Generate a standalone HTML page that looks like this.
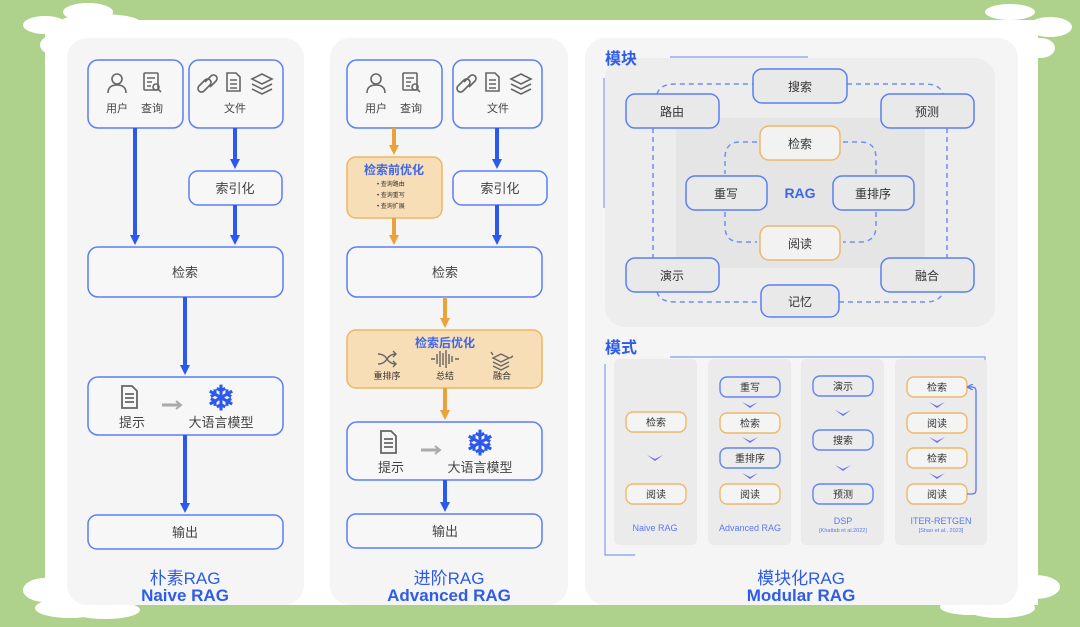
<!DOCTYPE html>
<html><head><meta charset="utf-8"><style>
html,body{margin:0;padding:0;background:#aed28b;}
svg{display:block}
text{font-family:"Liberation Sans","Noto Sans CJK SC",sans-serif;}
</style></head><body>
<svg width="1080" height="627" viewBox="0 0 1080 627" xmlns="http://www.w3.org/2000/svg">
<defs>
<marker id="ab" markerWidth="12" markerHeight="12" refX="3" refY="6" orient="auto" markerUnits="userSpaceOnUse"><path d="M0,1 L10,6 L0,11 Z" fill="#2b59f0"/></marker>
<marker id="ao" markerWidth="12" markerHeight="12" refX="3" refY="6" orient="auto" markerUnits="userSpaceOnUse"><path d="M0,1 L10,6 L0,11 Z" fill="#eba23a"/></marker>
<marker id="af" markerWidth="6" markerHeight="6" refX="5" refY="3" orient="auto" markerUnits="userSpaceOnUse"><path d="M0,0 L6,3 L0,6" fill="none" stroke="#5a78f2" stroke-width="1.3"/></marker>
</defs>
<rect width="1080" height="627" fill="#aed28b"/>
<!-- clouds -->
<g fill="#fff">
<ellipse cx="45" cy="25" rx="22" ry="9"/><ellipse cx="88" cy="12" rx="25" ry="9"/><ellipse cx="100" cy="22" rx="40" ry="8"/><ellipse cx="55" cy="45" rx="15" ry="10"/>
<ellipse cx="1010" cy="12" rx="25" ry="8"/><ellipse cx="1050" cy="27" rx="22" ry="10"/><ellipse cx="1040" cy="48" rx="15" ry="10"/>
<ellipse cx="45" cy="590" rx="22" ry="12"/><ellipse cx="70" cy="608" rx="35" ry="10"/><ellipse cx="105" cy="610" rx="35" ry="9"/>
<ellipse cx="1035" cy="587" rx="25" ry="12"/><ellipse cx="1000" cy="608" rx="35" ry="10"/><ellipse cx="970" cy="607" rx="30" ry="8"/>
<rect x="45" y="20" width="993" height="585"/>
</g>
<!-- panels -->
<g fill="#f5f5f5">
<rect x="67" y="38" width="237" height="567" rx="20"/>
<rect x="330" y="38" width="238" height="567" rx="20"/>
<rect x="585" y="38" width="433" height="567" rx="20"/>
</g>

<g fill="#f7f7f7" stroke="#5b7ff5" stroke-width="1.5">
<rect x="88" y="60" width="95" height="68" rx="10"/>
<rect x="189" y="60" width="94" height="68" rx="10"/>
<rect x="189" y="171" width="93" height="34" rx="9"/>
<rect x="88" y="247" width="195" height="50" rx="10"/>
<rect x="88" y="377" width="195" height="58" rx="10"/>
<rect x="88" y="515" width="195" height="34" rx="9"/>
<rect x="347" y="60" width="95" height="68" rx="10"/>
<rect x="453" y="60" width="89" height="68" rx="10"/>
<rect x="453" y="171" width="94" height="34" rx="9"/>
<rect x="347" y="247" width="195" height="50" rx="10"/>
<rect x="347" y="422" width="195" height="58" rx="10"/>
<rect x="347" y="514" width="195" height="34" rx="9"/>
</g>
<g fill="#f8deb6" stroke="#eeb662" stroke-width="1.5">
<rect x="347" y="157" width="95" height="61" rx="9"/>
<rect x="347" y="330" width="195" height="58" rx="9"/>
</g>

<g stroke="#2b59f0" stroke-width="4" fill="none">
<line x1="135" y1="128" x2="135" y2="238" marker-end="url(#ab)"/>
<line x1="235" y1="128" x2="235" y2="162" marker-end="url(#ab)"/>
<line x1="235" y1="205" x2="235" y2="238" marker-end="url(#ab)"/>
<line x1="185" y1="297" x2="185" y2="368" marker-end="url(#ab)"/>
<line x1="185" y1="435" x2="185" y2="506" marker-end="url(#ab)"/>
<line x1="497" y1="128" x2="497" y2="162" marker-end="url(#ab)"/>
<line x1="497" y1="205" x2="497" y2="238" marker-end="url(#ab)"/>
<line x1="445" y1="480" x2="445" y2="505" marker-end="url(#ab)"/>
</g>
<g stroke="#eba23a" stroke-width="4" fill="none">
<line x1="394" y1="128" x2="394" y2="148" marker-end="url(#ao)"/>
<line x1="394" y1="218" x2="394" y2="238" marker-end="url(#ao)"/>
<line x1="445" y1="297" x2="445" y2="321" marker-end="url(#ao)"/>
<line x1="445" y1="388" x2="445" y2="413" marker-end="url(#ao)"/>
</g>

<g id="ic1" stroke="#666" stroke-width="1.6" fill="none">
<circle cx="117" cy="79" r="5"/><path d="M108,93 Q108,85 117,85 Q126,85 126,93"/>
<rect x="144" y="73" width="14" height="17" rx="1"/><path d="M147,78h8M147,82h5M147,86h4"/><circle cx="156" cy="87" r="3"/><path d="M158,89l3,3"/>
<path d="M199,86 l6,-6 a3.5,3.5 0 0 1 5,5 l-6,6 a3.5,3.5 0 0 1 -5,-5z M205,82 l6,-6 a3.5,3.5 0 0 1 5,5 l-6,6"/>
<path d="M227,73h9l4,4v14h-13z"/><path d="M230,80h7M230,84h7M230,88h7"/>
<path d="M252,79 l10,-5 l10,5 l-10,5z M252,84 l10,5 l10,-5 M252,89 l10,5 l10,-5"/>
</g>
<use href="#ic1" x="259" y="0"/>
<g stroke="#666" stroke-width="1.8" fill="none">
<path d="M122,386h10l5,5v17h-15z M125,394h9M125,398h9M125,402h9"/>
<path d="M381,431h10l5,5v17h-15z M384,439h9M384,443h9M384,447h9"/>
</g>
<g stroke="#aaa" stroke-width="3" fill="none">
<path d="M162,405h18"/><path d="M176,401l5,4l-5,4" stroke-width="2"/>
<path d="M421,450h18"/><path d="M435,446l5,4l-5,4" stroke-width="2"/>
</g>
<g font-size="34" font-weight="bold" fill="#2b59f0" text-anchor="middle">
<text x="221" y="410">❄</text><text x="480" y="455">❄</text>
</g>
<g stroke="#666" stroke-width="1.4" fill="none">
<path d="M378,354 q6,0 9,5 t9,5 M378,364 q6,0 9,-5 t9,-5 M393,351l3,3l-3,3 M393,361l3,3l-3,3"/>
<path d="M431,359h4 M455,359h4 M437,354v10 M440,351v16 M443,353v12 M446,350v18 M449,354v10 M452,356v6"/>
<path d="M493,358l8,-4l8,4l-8,4z M493,362l8,4l8,-4 M493,366l8,4l8,-4 M493,355l-2,-3 M510,358l3,-2"/>
</g>

<g font-size="11" fill="#444" text-anchor="middle">
<text x="117" y="112">用户</text><text x="152" y="112">查询</text><text x="235" y="112">文件</text>
<text x="376" y="112">用户</text><text x="411" y="112">查询</text><text x="498" y="112">文件</text>
</g>
<g font-size="13" fill="#444" text-anchor="middle">
<text x="235" y="193">索引化</text><text x="185" y="277">检索</text>
<text x="132" y="427">提示</text><text x="221" y="427">大语言模型</text>
<text x="185" y="537">输出</text>
<text x="500" y="193">索引化</text><text x="445" y="277">检索</text>
<text x="391" y="472">提示</text><text x="480" y="472">大语言模型</text>
<text x="445" y="536">输出</text>
</g>
<g font-size="12" font-weight="bold" fill="#3d66ea" text-anchor="middle">
<text x="394" y="174">检索前优化</text><text x="445" y="347">检索后优化</text>
</g>
<g font-size="6" fill="#333">
<text x="377" y="186">•  查询路由</text><text x="377" y="197">•  查询重写</text><text x="377" y="208">•  查询扩展</text>
</g>
<g font-size="9" fill="#333" text-anchor="middle">
<text x="387" y="379">重排序</text><text x="445" y="379">总结</text><text x="502" y="379">融合</text>
</g>
<g font-size="17" font-weight="bold" fill="#2e5ce8" text-anchor="middle">
<text x="185" y="584" font-weight="normal">朴素RAG</text><text x="185" y="601">Naive RAG</text>
<text x="449" y="584" font-weight="normal">进阶RAG</text><text x="449" y="601">Advanced RAG</text>
<text x="801" y="584" font-weight="normal">模块化RAG</text><text x="801" y="601">Modular RAG</text>
</g>

<rect x="605" y="58" width="390" height="269" rx="20" fill="#ededed"/>
<rect x="676" y="118" width="249" height="150" fill="#e5e5e5"/>
<g stroke="#7f9cf5" stroke-width="1.2" fill="none">
<line x1="670" y1="57" x2="808" y2="57"/><line x1="604" y1="78" x2="604" y2="208"/>
<path d="M670,357 H985 V375"/><path d="M605,364 V555 H635"/>
</g>
<g stroke="#6f8ff5" stroke-width="1.5" fill="none" stroke-dasharray="5,4">
<path d="M657,94 Q660,84 675,84 H753"/><path d="M847,84 H925 Q940,84 943,94"/>
<path d="M653,128 V258"/><path d="M947,128 V258"/>
<path d="M657,292 Q660,302 675,302 H761"/><path d="M839,302 H925 Q940,302 943,292"/>
<path d="M757,142 H740 Q725,142 725,158 V174"/><path d="M843,142 H860 Q876,142 876,158 V174"/>
<path d="M725,212 V226 Q725,242 740,242 H757"/><path d="M876,212 V226 Q876,242 860,242 H843"/>
</g>
<g fill="#e9e9e9" stroke="#5b7ff5" stroke-width="1.5">
<rect x="753" y="69" width="94" height="34" rx="9"/>
<rect x="626" y="94" width="93" height="34" rx="9"/>
<rect x="881" y="94" width="93" height="34" rx="9"/>
<rect x="686" y="176" width="81" height="34" rx="9"/>
<rect x="833" y="176" width="81" height="34" rx="9"/>
<rect x="626" y="258" width="93" height="34" rx="9"/>
<rect x="881" y="258" width="93" height="34" rx="9"/>
<rect x="761" y="285" width="78" height="32" rx="9"/>
</g>
<g fill="#f2f2f2" stroke="#efb868" stroke-width="1.5">
<rect x="760" y="126" width="80" height="34" rx="9"/>
<rect x="760" y="226" width="80" height="34" rx="9"/>
</g>
<g font-size="12" fill="#333" text-anchor="middle">
<text x="800" y="91">搜索</text><text x="672" y="116">路由</text><text x="927" y="116">预测</text>
<text x="800" y="148">检索</text><text x="726" y="198">重写</text><text x="873" y="198">重排序</text>
<text x="800" y="248">阅读</text><text x="672" y="280">演示</text><text x="927" y="280">融合</text>
<text x="800" y="306">记忆</text>
</g>
<text x="800" y="198" font-size="14" font-weight="bold" fill="#3d66ea" text-anchor="middle">RAG</text>
<text x="605" y="64" font-size="16" font-weight="bold" fill="#2e5ce8">模块</text>
<text x="605" y="353" font-size="16" font-weight="bold" fill="#2e5ce8">模式</text>

<g fill="#ebebeb">
<rect x="614" y="359" width="83" height="186" rx="5"/>
<rect x="708" y="359" width="83" height="186" rx="5"/>
<rect x="801" y="359" width="83" height="186" rx="5"/>
<rect x="895" y="359" width="92" height="186" rx="5"/>
</g>
<g fill="#f4f4f4" stroke="#efb868" stroke-width="1.4">
<rect x="626" y="412" width="60" height="20" rx="7"/><rect x="626" y="484" width="60" height="20" rx="7"/>
<rect x="720" y="413" width="60" height="20" rx="7"/><rect x="720" y="484" width="60" height="20" rx="7"/>
<rect x="907" y="377" width="60" height="20" rx="7"/><rect x="907" y="413" width="60" height="20" rx="7"/>
<rect x="907" y="448" width="60" height="20" rx="7"/><rect x="907" y="484" width="60" height="20" rx="7"/>
</g>
<g fill="#ececec" stroke="#6284f5" stroke-width="1.4">
<rect x="720" y="377" width="60" height="20" rx="7"/><rect x="720" y="448" width="60" height="20" rx="7"/>
<rect x="813" y="376" width="60" height="20" rx="7"/><rect x="813" y="430" width="60" height="20" rx="7"/><rect x="813" y="484" width="60" height="20" rx="7"/>
</g>
<path d="M967,494 H972 Q976,494 976,490 V391 Q976,387 972,387 H968" stroke="#5a78f2" stroke-width="1.3" fill="none" marker-end="url(#af)"/>
<g fill="#6a6ff0">
<path d="M647,455 L655,459 L663,455 L655,461Z"/>
<path d="M742,402 L750,406 L758,402 L750,408Z"/><path d="M742,437 L750,441 L758,437 L750,443Z"/><path d="M742,473 L750,477 L758,473 L750,479Z"/>
<path d="M835,410 L843,414 L851,410 L843,416Z"/><path d="M835,465 L843,469 L851,465 L843,471Z"/>
<path d="M929,402 L937,406 L945,402 L937,408Z"/><path d="M929,437 L937,441 L945,437 L937,443Z"/><path d="M929,473 L937,477 L945,473 L937,479Z"/>
</g>
<g font-size="10" fill="#333" text-anchor="middle">
<text x="656" y="426">检索</text><text x="656" y="498">阅读</text>
<text x="750" y="391">重写</text><text x="750" y="427">检索</text><text x="750" y="462">重排序</text><text x="750" y="498">阅读</text>
<text x="843" y="390">演示</text><text x="843" y="444">搜索</text><text x="843" y="498">预测</text>
<text x="937" y="391">检索</text><text x="937" y="427">阅读</text><text x="937" y="462">检索</text><text x="937" y="498">阅读</text>
</g>
<g font-size="9" fill="#5a78f2" text-anchor="middle">
<text x="655" y="531">Naive RAG</text><text x="750" y="531">Advanced RAG</text>
<text x="843" y="524">DSP</text><text x="941" y="524">ITER-RETGEN</text>
</g>
<g font-size="5.5" fill="#5a78f2" text-anchor="middle">
<text x="843" y="532">[Khattab et al.2022]</text><text x="941" y="532">[Shao et al., 2023]</text>
</g>
</svg>
</body></html>
